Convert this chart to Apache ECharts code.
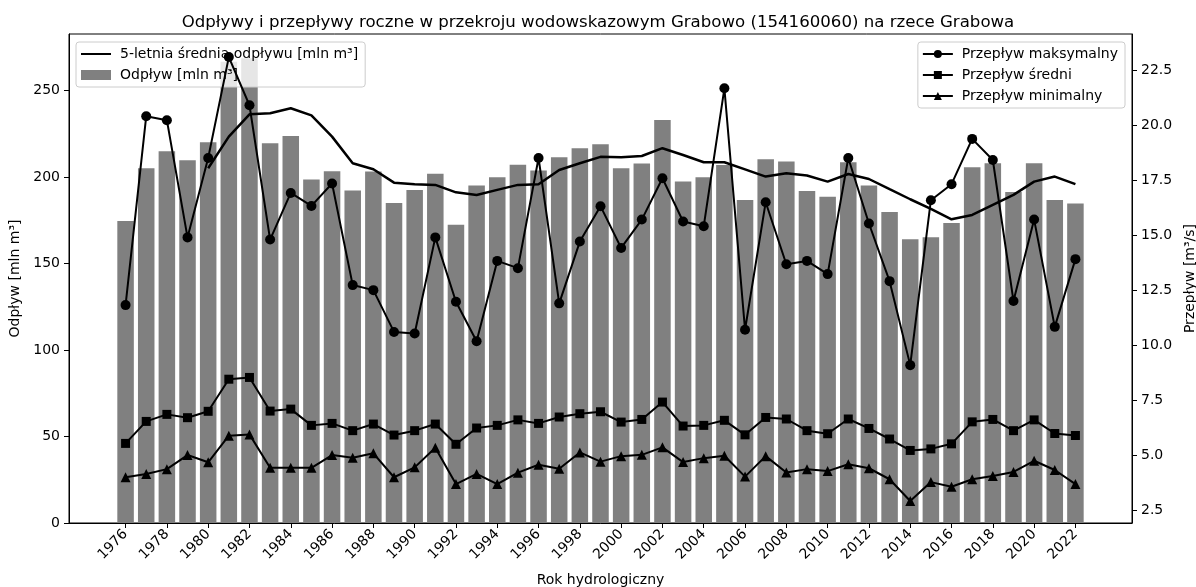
<!DOCTYPE html>
<html>
<head>
<meta charset="utf-8">
<script src="https://cdn.jsdelivr.net/npm/echarts@6/dist/echarts.min.js"></script>
<style>
  html, body { margin: 0; padding: 0; background: #fff; }
  #chart { width: 1196px; height: 587px; }
</style>
</head>
<body>
<div id="chart"></div>
<script>
// lata hydrologiczne
const years = [1976, 1977, 1978, 1979, 1980, 1981, 1982, 1983, 1984, 1985, 1986, 1987,
  1988, 1989, 1990, 1991, 1992, 1993, 1994, 1995, 1996, 1997, 1998, 1999, 2000, 2001,
  2002, 2003, 2004, 2005, 2006, 2007, 2008, 2009, 2010, 2011, 2012, 2013, 2014, 2015,
  2016, 2017, 2018, 2019, 2020, 2021, 2022]

// odplyw roczny [mln m3]
const outflow = [174.6, 205.0, 214.8, 209.6, 220.0, 266.5, 268.6, 219.5, 223.7, 198.5, 203.3, 192.1,
  203.1, 185.0, 192.5, 201.9, 172.3, 195.0, 199.8, 207.1, 203.7, 211.4, 216.6, 218.9, 205.0, 207.8,
  232.9, 197.3, 199.8, 206.9, 186.7, 210.2, 208.9, 191.9, 188.6, 208.5, 195.0, 179.8, 164.0, 165.1,
  173.4, 205.6, 207.9, 191.3, 207.9, 186.7, 184.6]

// 5-letnia srednia (od 1980)
const avgYears = [1980, 1981, 1982, 1983, 1984, 1985, 1986, 1987,
  1988, 1989, 1990, 1991, 1992, 1993, 1994, 1995, 1996, 1997, 1998, 1999, 2000, 2001,
  2002, 2003, 2004, 2005, 2006, 2007, 2008, 2009, 2010, 2011, 2012, 2013, 2014, 2015,
  2016, 2017, 2018, 2019, 2020, 2021, 2022]
const avg5 = [205.0, 223.3, 236.2, 236.8, 239.7, 235.6, 223.3, 207.9,
  204.4, 196.7, 195.8, 195.4, 191.1, 189.6, 192.5, 195.4, 195.8, 204.0, 207.9, 211.6, 211.4, 212.1,
  216.6, 212.7, 208.5, 208.5, 204.4, 200.2, 202.1, 200.8, 197.3, 201.7, 198.8, 192.9, 187.1, 181.5,
  175.5, 178.0, 183.8, 189.6, 197.3, 200.2, 195.8]

// przeplywy [m3/s]
const qMax = [11.82, 20.41, 20.23, 14.90, 18.51, 23.10, 20.91, 14.80, 16.92, 16.33, 17.35, 12.73,
  12.50, 10.60, 10.53, 14.90, 11.97, 10.18, 13.83, 13.50, 18.51, 11.90, 14.71, 16.32, 14.42, 15.71,
  17.59, 15.62, 15.41, 21.68, 10.70, 16.50, 13.68, 13.83, 13.23, 18.51, 15.53, 12.91, 9.09, 16.59,
  17.32, 19.38, 18.42, 12.01, 15.71, 10.83, 13.91]
const qMean = [5.53, 6.53, 6.85, 6.70, 6.99, 8.45, 8.53, 7.00, 7.09, 6.35, 6.44, 6.11,
  6.41, 5.91, 6.11, 6.41, 5.49, 6.23, 6.35, 6.60, 6.44, 6.73, 6.88, 6.97, 6.50, 6.62,
  7.41, 6.32, 6.35, 6.58, 5.92, 6.71, 6.64, 6.11, 5.97, 6.64, 6.21, 5.73, 5.21, 5.28,
  5.51, 6.51, 6.62, 6.11, 6.60, 5.98, 5.89]
const qMin = [3.99, 4.14, 4.36, 5.00, 4.67, 5.88, 5.94, 4.42, 4.42, 4.42, 5.00, 4.88,
  5.08, 3.99, 4.44, 5.33, 3.68, 4.14, 3.68, 4.20, 4.56, 4.38, 5.12, 4.70, 4.95, 5.01,
  5.35, 4.68, 4.86, 4.97, 4.02, 4.95, 4.21, 4.36, 4.27, 4.58, 4.40, 3.90, 2.91, 3.77,
  3.56, 3.90, 4.05, 4.23, 4.74, 4.32, 3.68]

// ticks
const xTicks = [1976, 1978, 1980, 1982, 1984, 1986, 1988, 1990, 1992, 1994, 1996, 1998, 2000,
  2002, 2004, 2006, 2008, 2010, 2012, 2014, 2016, 2018, 2020, 2022]
const yLeftTicks = [0, 50, 100, 150, 200, 250]
const yRightTicks = [2.5, 5.0, 7.5, 10.0, 12.5, 15.0, 17.5, 20.0, 22.5]

const names = {
  avg: '5-letnia średnia odpływu [mln m³]',
  bar: 'Odpływ [mln m³]',
  max: 'Przepływ maksymalny',
  mean: 'Przepływ średni',
  min: 'Przepływ minimalny'
}

const FONT = 'DejaVu Sans'
const grid = { left: 69, right: 64, top: 34, bottom: 64 }
const xMin = 1973.26
const xMax = 2024.74
const plotW = 1196 - grid.left - grid.right
const barW = 0.8 * plotW / (xMax - xMin)

const pairs = (xs, ys) => xs.map((x, i) => [x, ys[i]])

const chart = echarts.init(document.getElementById('chart'))

const tickStyle = { show: true, length: 5, lineStyle: { color: '#000', width: 1 } }
const labelStyle = { color: '#000', fontFamily: FONT, fontSize: 14 }
const legendBase = {
  orient: 'vertical',
  top: 42,
  itemWidth: 30,
  itemHeight: 10,
  itemGap: 7,
  padding: [5, 7, 5, 4],
  backgroundColor: 'rgba(255,255,255,0.8)',
  borderColor: '#cccccc',
  borderWidth: 1,
  borderRadius: 3,
  selectedMode: false,
  textStyle: Object.assign({ lineHeight: 14, padding: [0, 0, 0, 4] }, labelStyle)
}

chart.setOption({
  animation: false,
  title: {
    text: 'Odpływy i przepływy roczne w przekroju wodowskazowym Grabowo (154160060) na rzece Grabowa',
    left: 'center',
    top: 9,
    textStyle: { fontFamily: FONT, fontSize: 16.6, fontWeight: 'normal', color: '#000' }
  },
  // stala ramka wykresu, bez dopasowywania do etykiet
  grid: Object.assign({ show: true, borderColor: '#000', borderWidth: 1, outerBoundsMode: 'none' }, grid),
  legend: [
    Object.assign({}, legendBase, {
      // legenda osi lewej: nad slupkami, pod liniami przeplywu
      data: [
        { name: names.avg, itemStyle: { opacity: 0 } },
        { name: names.bar, icon: 'rect' }
      ],
      left: 76,
      z: 10
    }),
    Object.assign({}, legendBase, {
      data: [{ name: names.max }, { name: names.mean }, { name: names.min }],
      right: 71,
      z: 30
    })
  ],
  xAxis: {
    type: 'value',
    min: xMin,
    max: xMax,
    name: 'Rok hydrologiczny',
    nameLocation: 'middle',
    nameGap: 50,
    nameTextStyle: { fontFamily: FONT, fontSize: 14, color: '#000' },
    axisLine: { show: true, lineStyle: { color: '#000', width: 1 } },
    axisTick: Object.assign({ customValues: xTicks }, tickStyle),
    axisLabel: Object.assign({ customValues: xTicks, rotate: 45, margin: 9, formatter: v => String(v) }, labelStyle),
    splitLine: { show: false }
  },
  yAxis: [
    {
      type: 'value',
      min: 0,
      max: 282.6,
      position: 'left',
      name: 'Odpływ [mln m³]',
      nameLocation: 'middle',
      nameGap: 41,
      nameTextStyle: { fontFamily: FONT, fontSize: 14, color: '#000' },
      axisLine: { show: true, lineStyle: { color: '#000', width: 1 } },
      axisTick: Object.assign({ customValues: yLeftTicks }, tickStyle),
      axisLabel: Object.assign({ customValues: yLeftTicks, margin: 9 }, labelStyle),
      splitLine: { show: false }
    },
    {
      type: 'value',
      min: 1.91,
      max: 24.15,
      position: 'right',
      name: 'Przepływ [m³/s]',
      nameLocation: 'middle',
      nameGap: 43,
      nameTextStyle: { fontFamily: FONT, fontSize: 14, color: '#000' },
      axisLine: { show: true, lineStyle: { color: '#000', width: 1 } },
      axisTick: Object.assign({ customValues: yRightTicks }, tickStyle),
      axisLabel: Object.assign({ customValues: yRightTicks, margin: 9, formatter: v => v.toFixed(1) }, labelStyle),
      splitLine: { show: false }
    }
  ],
  series: [
    {
      name: names.bar,
      type: 'bar',
      yAxisIndex: 0,
      data: pairs(years, outflow),
      barWidth: barW,
      itemStyle: { color: '#808080' },
      z: 1
    },
    {
      name: names.avg,
      type: 'line',
      yAxisIndex: 0,
      data: pairs(avgYears, avg5),
      symbol: 'none',
      lineStyle: { color: '#000', width: 2.5 },
      itemStyle: { color: '#000' },
      z: 2
    },
    {
      name: names.max,
      type: 'line',
      yAxisIndex: 1,
      data: pairs(years, qMax),
      symbol: 'circle',
      symbolSize: 10,
      lineStyle: { color: '#000', width: 2 },
      itemStyle: { color: '#000' },
      z: 20
    },
    {
      name: names.mean,
      type: 'line',
      yAxisIndex: 1,
      data: pairs(years, qMean),
      symbol: 'rect',
      symbolSize: 9,
      lineStyle: { color: '#000', width: 2 },
      itemStyle: { color: '#000' },
      z: 20
    },
    {
      name: names.min,
      type: 'line',
      yAxisIndex: 1,
      data: pairs(years, qMin),
      symbol: 'triangle',
      symbolSize: 10,
      lineStyle: { color: '#000', width: 2 },
      itemStyle: { color: '#000' },
      z: 20
    }
  ]
})
</script>
</body>
</html>
